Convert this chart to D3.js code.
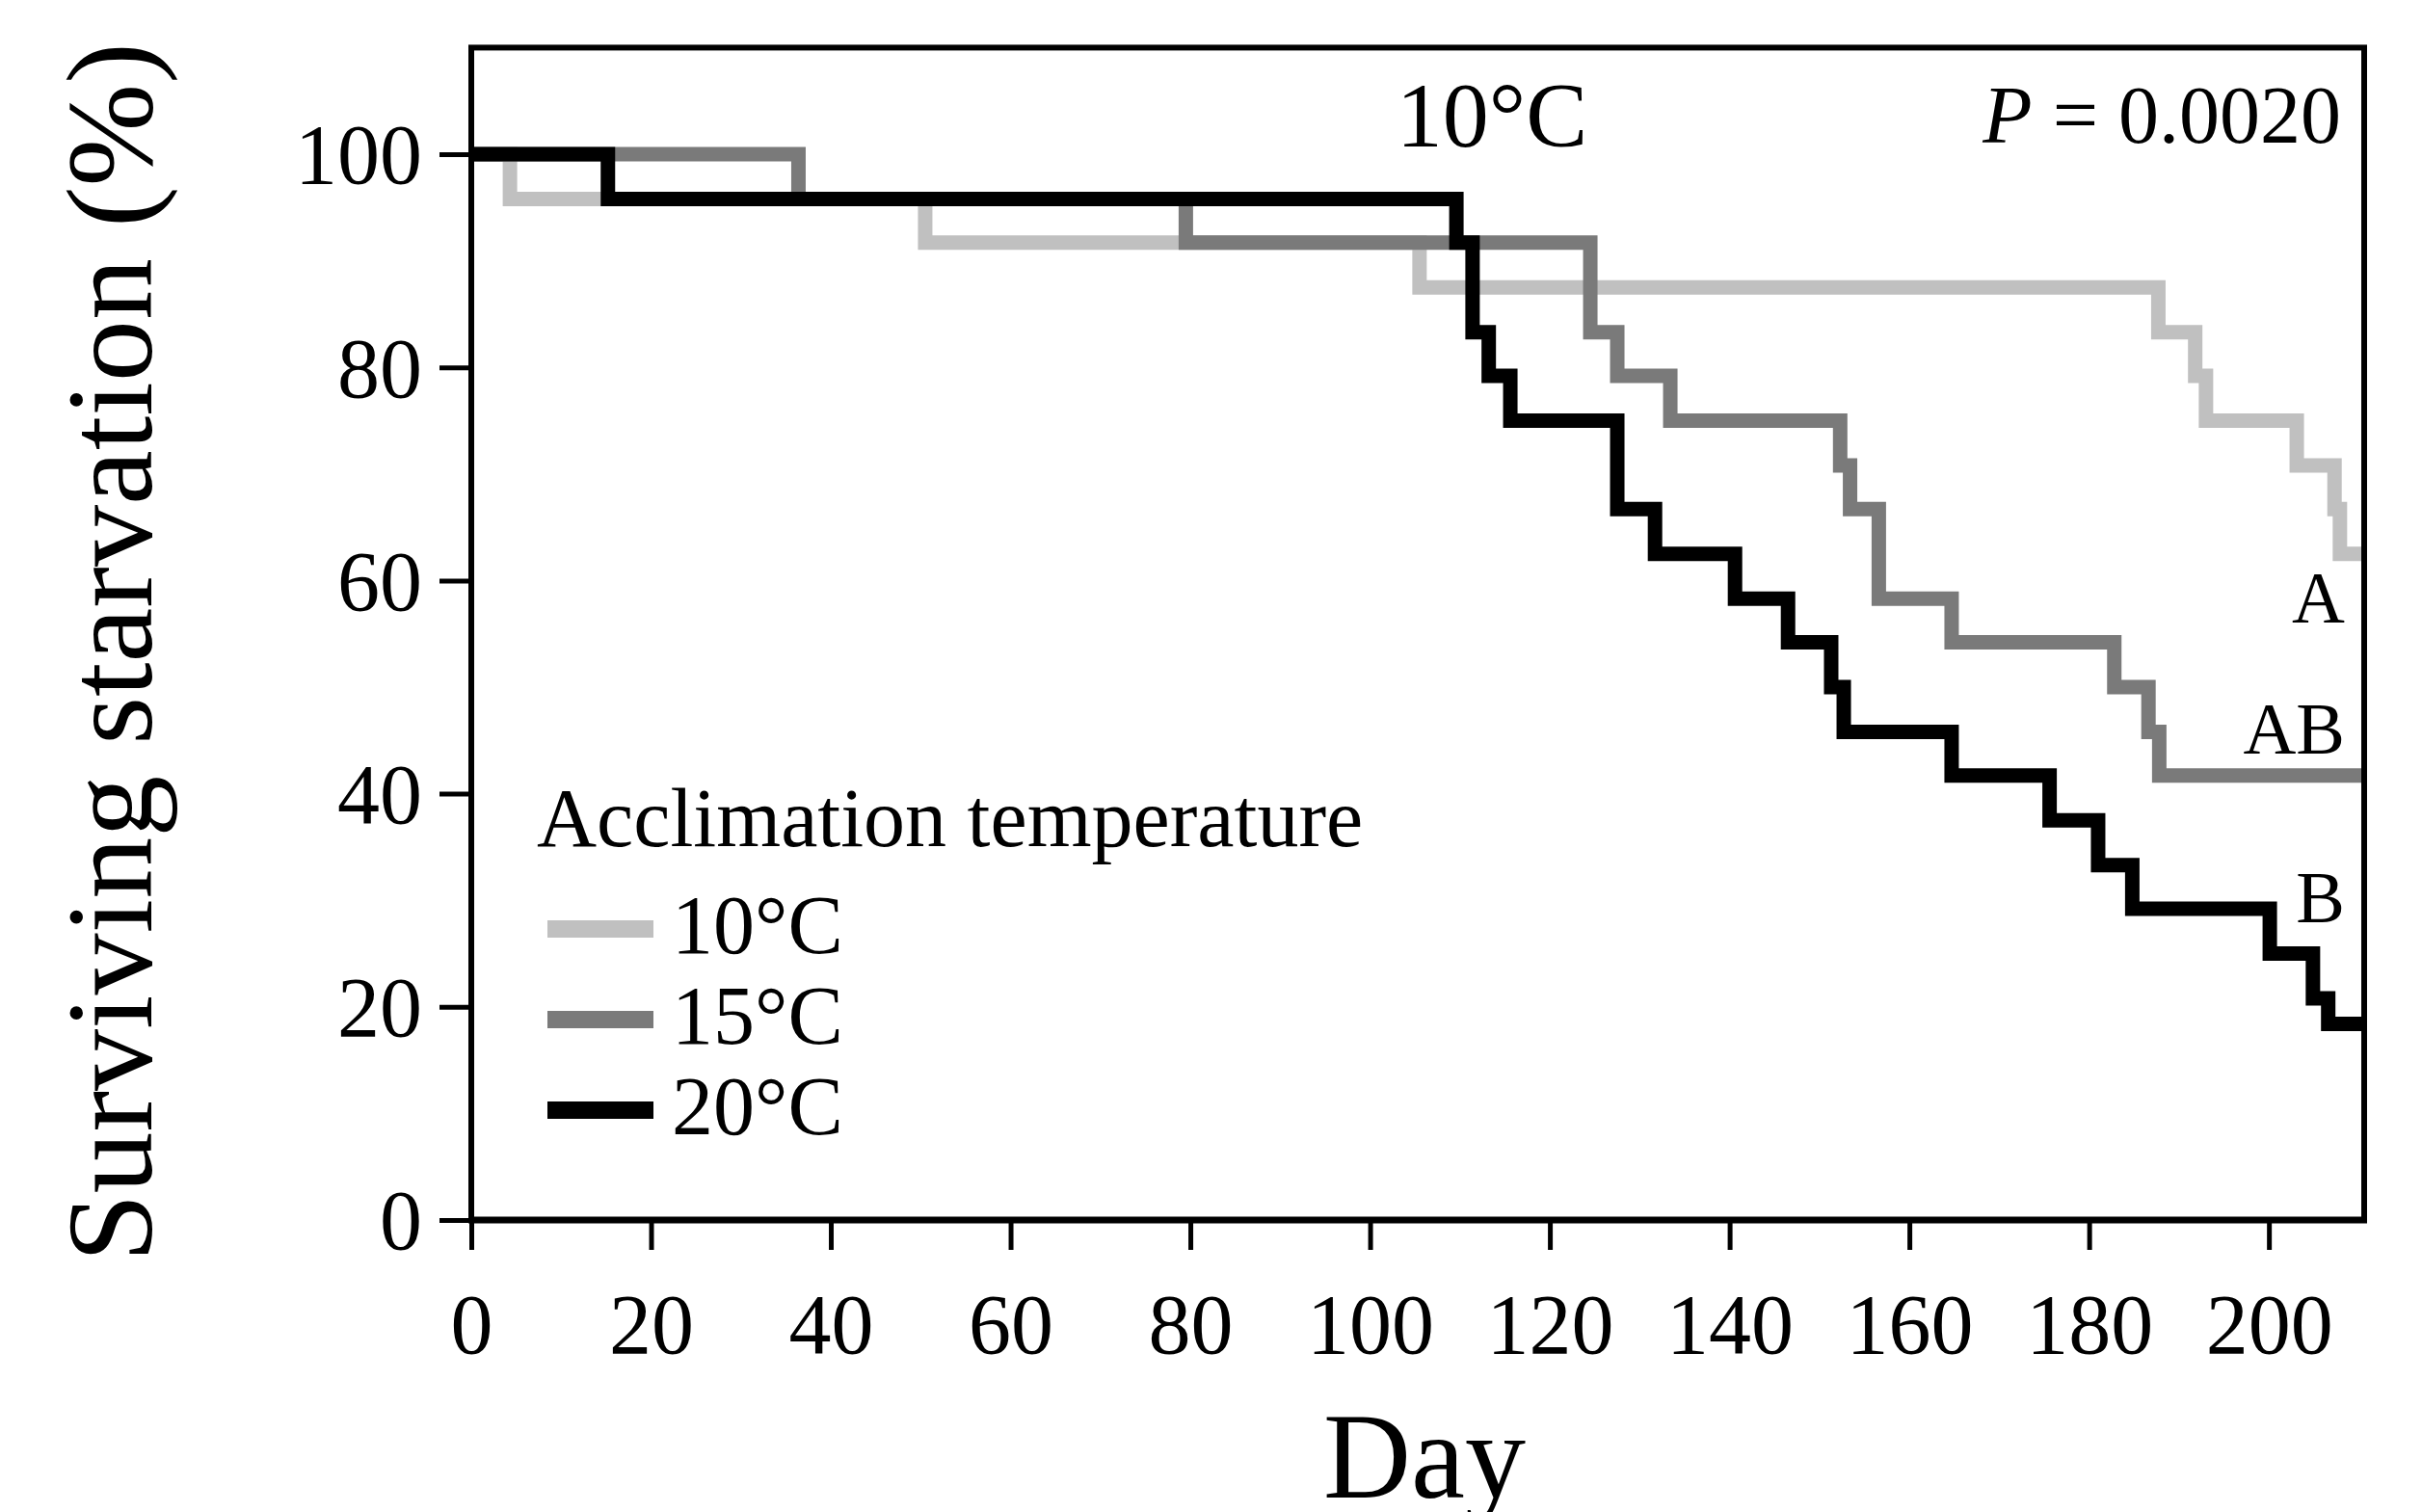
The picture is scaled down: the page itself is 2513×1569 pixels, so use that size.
<!DOCTYPE html>
<html>
<head>
<meta charset="utf-8">
<script src="https://cdn.jsdelivr.net/npm/d3@7"></script>
<style>
  body { margin: 0; background: #fff; }
  svg text { font-family: "Liberation Serif", "Times New Roman", serif; fill: #000; }
</style>
</head>
<body>
<svg id="chart"></svg>
<script>
// survival curves (day, % surviving)
const days10 = [0, 4.3, 50.5, 105.5, 187.7, 191.8, 193.0, 203.1, 207.3, 207.9];
const surv10 = [100, 95.8, 91.7, 87.5, 83.3, 79.2, 75.0, 70.8, 66.7, 62.5];

const days15 = [0, 36.4, 79.5, 124.5, 127.5, 133.4, 152.3, 153.4, 156.6, 164.7, 182.8, 186.6, 187.8];
const surv15 = [100, 95.8, 91.7, 83.3, 79.2, 75.0, 70.8, 66.7, 58.3, 54.2, 50.0, 45.8, 41.7];

const days20 = [0, 15.2, 109.6, 111.4, 113.2, 115.6, 127.5, 131.7, 140.6, 146.5, 151.3, 152.7, 164.7, 175.6, 181.0, 184.8, 200.1, 204.9, 206.6];
const surv20 = [100, 95.8, 91.7, 83.3, 79.2, 75.0, 66.7, 62.5, 58.3, 54.2, 50.0, 45.8, 41.7, 37.5, 33.3, 29.2, 25.0, 20.8, 18.4];

const seriesNames = ["10°C", "15°C", "20°C"];
const seriesColors = ["#c0c0c0", "#7a7a7a", "#000000"];
const groupLetters = ["A", "AB", "B"];
const letterLevels = [56.1, 43.8, 27.9];

const xTicks = [0, 20, 40, 60, 80, 100, 120, 140, 160, 180, 200];
const yTicks = [0, 20, 40, 60, 80, 100];

const W = 2513, H = 1569;
const svg = d3.select("#chart").attr("width", W).attr("height", H);

const x = d3.scaleLinear().domain([0, 210.6]).range([489, 2453]);
const y = d3.scaleLinear().domain([0, 110]).range([1266, 49.4]);

const series = [
  {name: seriesNames[0], color: seriesColors[0], days: days10, surv: surv10},
  {name: seriesNames[1], color: seriesColors[1], days: days15, surv: surv15},
  {name: seriesNames[2], color: seriesColors[2], days: days20, surv: surv20}
];

// step lines, lightest first so black sits on top
const line = d3.line().curve(d3.curveStepAfter).x(d => x(d[0])).y(d => y(d[1]));
const xEnd = x.domain()[1];

svg.append("g").selectAll("path").data(series).join("path")
  .attr("fill", "none")
  .attr("stroke", d => d.color)
  .attr("stroke-width", 15)
  .attr("stroke-linejoin", "miter")
  .attr("d", d => {
    const pts = d.days.map((t, i) => [t, d.surv[i]]);
    pts.push([xEnd, d.surv[d.surv.length - 1]]);
    return line(pts);
  });

// frame
svg.append("rect")
  .attr("x", x.range()[0]).attr("y", y.range()[1])
  .attr("width", x.range()[1] - x.range()[0])
  .attr("height", y.range()[0] - y.range()[1])
  .attr("fill", "none").attr("stroke", "#000").attr("stroke-width", 6);

svg.append("line")
  .attr("x1", x.range()[0] - 3).attr("x2", x.range()[1] + 3)
  .attr("y1", y(0)).attr("y2", y(0))
  .attr("stroke", "#000").attr("stroke-width", 7);

// axes
const gx = svg.append("g").attr("transform", `translate(0,${y(0)})`)
  .call(d3.axisBottom(x).tickValues(xTicks).tickSize(31).tickPadding(45));
const gy = svg.append("g").attr("transform", `translate(${x(0)},0)`)
  .call(d3.axisLeft(y).tickValues(yTicks).tickSize(33).tickPadding(18));

[gx, gy].forEach(g => {
  g.select(".domain").remove();
  g.selectAll(".tick line").attr("stroke", "#000").attr("stroke-width", 5);
  g.selectAll(".tick text").attr("font-size", 88).attr("fill", "#000")
    .style("font-family", "'Liberation Serif', 'Times New Roman', serif");
});
gy.selectAll(".tick text").attr("dy", "0.34em");

// axis titles
svg.append("text")
  .attr("x", 1478).attr("y", 1554)
  .attr("text-anchor", "middle").attr("font-size", 126)
  .text("Day");

svg.append("text")
  .attr("transform", "translate(157,677) rotate(-90)")
  .attr("text-anchor", "middle").attr("font-size", 128)
  .text("Surviving starvation (%)");

// panel title and P value
svg.append("text")
  .attr("x", 1548).attr("y", 152)
  .attr("text-anchor", "middle").attr("font-size", 96)
  .text("10°C");

const pText = svg.append("text")
  .attr("x", 2429).attr("y", 148)
  .attr("text-anchor", "end").attr("font-size", 84);
pText.append("tspan").attr("font-style", "italic").text("P");
pText.append("tspan").text(" = 0.0020");

// group letters at the curve ends
svg.append("g").selectAll("text").data(groupLetters).join("text")
  .attr("x", 2433)
  .attr("y", (d, i) => y(letterLevels[i]))
  .attr("text-anchor", "end").attr("font-size", 76)
  .text(d => d);

// legend
const legend = svg.append("g");
legend.append("text")
  .attr("x", 557).attr("y", 878)
  .attr("font-size", 86)
  .text("Acclimation temperature");

const item = legend.selectAll("g.item").data(series).join("g")
  .attr("class", "item")
  .attr("transform", (d, i) => `translate(0,${964 + i * 94})`);
item.append("line")
  .attr("x1", 568).attr("x2", 678)
  .attr("stroke", d => d.color).attr("stroke-width", 18);
item.append("text")
  .attr("x", 697).attr("y", 25)
  .attr("font-size", 86)
  .text(d => d.name);
</script>
</body>
</html>
